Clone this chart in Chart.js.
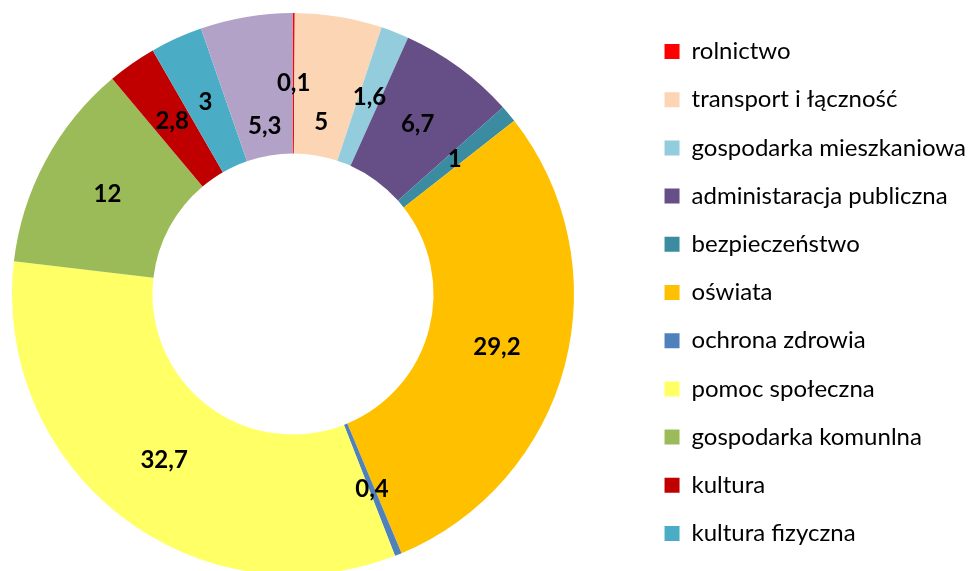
<!DOCTYPE html>
<html lang="pl">
<head>
<meta charset="utf-8">
<script src="https://cdn.jsdelivr.net/npm/chart.js@4/dist/chart.umd.min.js"></script>
<style>
html,body{margin:0;padding:0;background:#fff;overflow:hidden}
canvas{display:block}
</style>
</head>
<body>
<canvas id="wydatki" width="976" height="571"></canvas>
<script>
// Struktura wydatków budżetu (%)
const categories = [
  'rolnictwo',
  'transport i łączność',
  'gospodarka mieszkaniowa',
  'administaracja publiczna',
  'bezpieczeństwo',
  'oświata',
  'ochrona zdrowia',
  'pomoc społeczna',
  'gospodarka komunlna',
  'kultura',
  'kultura fizyczna',
  'pozostałe'
];
const shares = [0.1, 5, 1.6, 6.7, 1, 29.2, 0.4, 32.7, 12, 2.8, 3, 5.3];
const sliceColors = [
  '#FF0000', '#FCD5B5', '#93CDDD', '#664F87', '#3B8BA1', '#FFC000',
  '#4F81BD', '#FFFF66', '#9BBB59', '#C00000', '#4BACC6', '#B3A2C7'
];
// ostatnia kategoria nie występuje w legendzie
const legendHidden = ['pozostałe'];

const FONT_FAMILY = 'Lato, "Open Sans", sans-serif';
const LEGEND_FONT_SIZE = 24;
const LABEL_FONT_SIZE = 24;

// etykiety wartości przesunięte do środka, aby nie nachodziły na "0,1"
const labelInset = {1: 37, 11: 41};

// pierścień w kwadratowym obszarze po lewej stronie, legenda po prawej
const ringArea = {left: 12, top: 13, size: 562};

const ringPlacement = {
  id: 'ringPlacement',
  afterLayout(chart) {
    const ca = chart.chartArea;
    ca.left = ringArea.left;
    ca.top = ringArea.top;
    ca.right = ringArea.left + ringArea.size;
    ca.bottom = ringArea.top + ringArea.size;
    ca.width = ringArea.size;
    ca.height = ringArea.size;
  }
};

const valueLabels = {
  id: 'valueLabels',
  afterDatasetsDraw(chart) {
    const ctx = chart.ctx;
    const meta = chart.getDatasetMeta(0);
    ctx.save();
    ctx.font = 'bold ' + LABEL_FONT_SIZE + 'px ' + FONT_FAMILY;
    ctx.fillStyle = '#000';
    ctx.textAlign = 'center';
    ctx.textBaseline = 'middle';
    meta.data.forEach((arc, i) => {
      const p = arc.getProps(['x', 'y', 'startAngle', 'endAngle', 'innerRadius', 'outerRadius'], true);
      const mid = (p.startAngle + p.endAngle) / 2;
      const r = (p.innerRadius + p.outerRadius) / 2 - (labelInset[i] || 0);
      const text = String(shares[i]).replace('.', ',');
      ctx.fillText(text, p.x + Math.cos(mid) * r, p.y + Math.sin(mid) * r);
    });
    ctx.restore();
  }
};

new Chart(document.getElementById('wydatki'), {
  type: 'doughnut',
  data: {
    labels: categories,
    datasets: [{
      data: shares,
      backgroundColor: sliceColors,
      borderWidth: 0,
      cutout: '50%'
    }]
  },
  options: {
    responsive: false,
    animation: false,
    layout: {
      padding: {left: 0, right: 0, top: 15.3, bottom: 0}
    },
    plugins: {
      tooltip: {enabled: false},
      legend: {
        position: 'right',
        align: 'start',
        labels: {
          boxWidth: 15,
          boxHeight: 15,
          padding: 24.2,
          color: '#000',
          font: {family: FONT_FAMILY, size: LEGEND_FONT_SIZE},
          filter: (item) => !legendHidden.includes(item.text)
        }
      }
    }
  },
  plugins: [ringPlacement, valueLabels]
});
</script>
</body>
</html>
